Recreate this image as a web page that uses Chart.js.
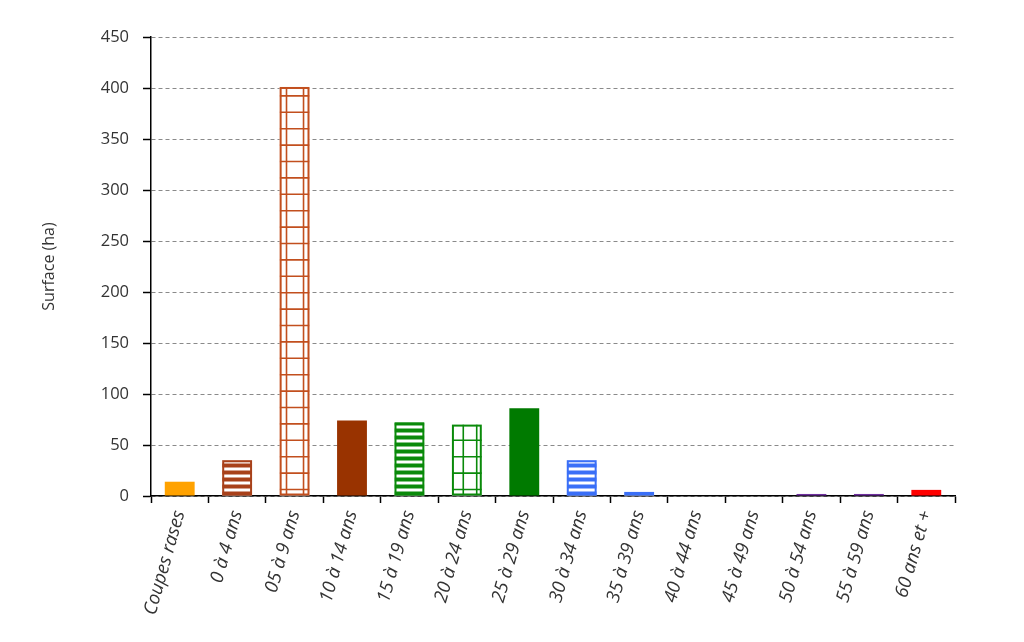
<!DOCTYPE html>
<html>
<head>
<meta charset="utf-8">
<script src="https://cdn.jsdelivr.net/npm/chart.js@4"></script>
<style>
html,body{margin:0;padding:0;background:#fff;}
#wrap{width:1024px;height:642px;position:relative;}
</style>
</head>
<body>
<div id="wrap"><canvas id="c" width="1024" height="642"></canvas></div>
<script>
const categories = ['Coupes rases','0 à 4 ans','05 à 9 ans','10 à 14 ans','15 à 19 ans','20 à 24 ans','25 à 29 ans','30 à 34 ans','35 à 39 ans','40 à 44 ans','45 à 49 ans','50 à 54 ans','55 à 59 ans','60 ans et +'];
const surfaces = [14, 35, 401, 74, 72, 70, 86, 35, 4, 0, 0, 2, 2, 6];
const yTicks = [0, 50, 100, 150, 200, 250, 300, 350, 400, 450];
const barColors = ['#FFA200','#A8411A','#C24F1E','#993300','#0A8A0A','#0A8A0A','#007A00','#3A6FF7','#3A6FF7','#7030A0','#7030A0','#7030A0','#7030A0','#FF0000'];
const barFill = ['solid','hlines','grid','solid','hlines','grid','solid','hlines','grid','solid','solid','solid','solid','solid'];
const gridVerticals = {2:[0.23,0.8], 5:[0.38,0.83], 8:[0.5]};

const patternPlugin = {
  id: 'patterns',
  afterDatasetDraw(chart, args) {
    const ctx = chart.ctx;
    const meta = args.meta;
    meta.data.forEach((bar, i) => {
      const kind = barFill[i];
      if (kind === 'solid') return;
      const p = bar.getProps(['x','y','base','width'], true);
      const left = p.x - p.width/2, right = p.x + p.width/2;
      const top = Math.min(p.y, p.base), bottom = Math.max(p.y, p.base);
      if (bottom - top < 0.5) return;
      ctx.save();
      ctx.beginPath();
      ctx.rect(left, top, right-left, bottom-top);
      ctx.clip();
      ctx.fillStyle = barColors[i];
      ctx.strokeStyle = barColors[i];
      if (kind === 'hlines') {
        for (let yy = bottom; yy > top - 8; yy -= 7) {
          ctx.fillRect(left, yy - 4, right-left, 4);
        }
      } else {
        ctx.lineWidth = 1.6;
        for (let yy = bottom - 6; yy > top; yy -= 16.4) {
          ctx.beginPath(); ctx.moveTo(left, yy); ctx.lineTo(right, yy); ctx.stroke();
        }
        (gridVerticals[i] || []).forEach(f => {
          const xx = left + f*(right-left);
          ctx.beginPath(); ctx.moveTo(xx, top); ctx.lineTo(xx, bottom); ctx.stroke();
        });
      }
      ctx.restore();
      ctx.save();
      ctx.lineWidth = 2;
      ctx.strokeStyle = barColors[i];
      ctx.strokeRect(left+1, top+1, right-left-2, bottom-top-2);
      ctx.restore();
    });
  }
};

const fontFam = "'Open Sans', 'DejaVu Sans', sans-serif";
new Chart(document.getElementById('c'), {
  type: 'bar',
  data: {
    labels: categories,
    datasets: [{
      data: surfaces,
      backgroundColor: barColors.map((c,i) => barFill[i]==='solid' ? c : '#ffffff'),
      borderColor: barColors,
      borderWidth: 0,
      categoryPercentage: 1,
      barPercentage: 0.52
    }]
  },
  options: {
    responsive: false,
    animation: false,
    devicePixelRatio: 1,
    layout: { padding: { top: 37, right: 69, bottom: 0, left: 40 } },
    plugins: { legend: { display: false }, tooltip: { enabled: false } },
    scales: {
      x: {
        offset: true,
        grid: { display: true, drawOnChartArea: false, offset: true, tickLength: 7, tickColor: '#000', tickWidth: 1.5, color: '#000' },
        border: { display: true, color: '#000', width: 1.5 },
        ticks: {
          autoSkip: false, maxRotation: 74, minRotation: 74, padding: 5,
          color: '#333', font: { family: fontFam, size: 18.5, style: 'italic' }
        },
        afterFit(scale) { scale.height = 146; }
      },
      y: {
        min: 0, max: 450,
        afterBuildTicks(scale) { scale.ticks = yTicks.map(v => ({ value: v })); },
        grid: { color: '#8a8a8a', lineWidth: 1, tickLength: 8, tickColor: '#000', tickWidth: 1.5, tickBorderDash: [] },
        border: { display: true, color: '#000', width: 1.5, dash: [4, 3] },
        ticks: { padding: 14, color: '#333', font: { family: fontFam, size: 16.5 } },
        title: { display: true, text: 'Surface (ha)', color: '#333', font: { family: fontFam, size: 16 }, padding: { top: 0, bottom: 0 } },
        afterFit(scale) { scale.width = 111; }
      }
    }
  },
  plugins: [patternPlugin]
});
</script>
</body>
</html>
